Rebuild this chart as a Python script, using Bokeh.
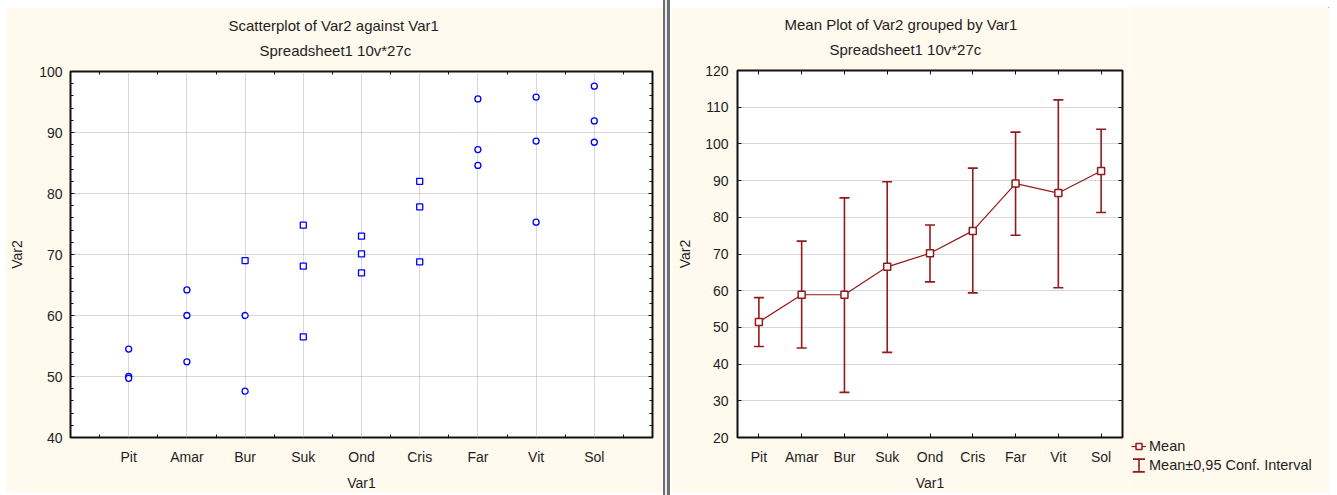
from bokeh.plotting import figure
from bokeh.models import (Range1d, FixedTicker, SingleIntervalTicker, LinearAxis,
                          Title, Legend, LegendItem, ColumnDataSource, Div,
                          CustomLabelingPolicy)
from bokeh.layouts import row
from bokeh.embed import file_html
from bokeh.resources import INLINE

# ---------------- data ----------------
categories = ["Pit", "Amar", "Bur", "Suk", "Ond", "Cris", "Far", "Vit", "Sol"]

# scatterplot cases (Var1 group, Var2 value)
case_var1 = ["Pit", "Pit", "Pit",
             "Amar", "Amar", "Amar",
             "Bur", "Bur", "Bur",
             "Suk", "Suk", "Suk",
             "Ond", "Ond", "Ond",
             "Cris", "Cris", "Cris",
             "Far", "Far", "Far",
             "Vit", "Vit", "Vit",
             "Sol", "Sol", "Sol"]
case_var2 = [54.5, 50.0, 49.7,
             64.2, 60.0, 52.4,
             69.0, 60.0, 47.6,
             74.8, 68.1, 56.5,
             73.0, 70.1, 67.0,
             82.0, 77.8, 68.8,
             95.5, 87.2, 84.6,
             95.8, 88.6, 75.3,
             97.6, 91.9, 88.4]
case_marker = ["circle", "circle", "circle",
               "circle", "circle", "circle",
               "square", "circle", "circle",
               "square", "square", "square",
               "square", "square", "square",
               "square", "square", "square",
               "circle", "circle", "circle",
               "circle", "circle", "circle",
               "circle", "circle", "circle"]

# mean plot
group_mean = [51.5, 58.9, 58.9, 66.5, 70.2, 76.3, 89.2, 86.6, 92.6]
ci_low = [44.8, 44.4, 32.3, 43.2, 62.4, 59.4, 75.1, 60.8, 81.3]
ci_high = [58.1, 73.5, 85.3, 89.7, 77.9, 93.4, 103.2, 112.0, 104.0]

# ---------------- style ----------------
BG = "#FFF9EE"
FONT = "Liberation Sans"
TXT = "#1e1e1e"
RED = "#921A1A"
BLUE = "#0000FF"
GRID = "#b0b0b0"

cat_pos = {c: i + 1 for i, c in enumerate(categories)}
cat_labels = {i + 1: c for i, c in enumerate(categories)}

HIDE_LABELS = "for (const i of Array.from(indices)) { indices.unset(i) }; return indices"


def style_axis(ax, tick_in=4, minor_in=0, standoff=8, label_standoff=10):
    ax.axis_line_color = None
    ax.major_tick_out = 0
    ax.major_tick_in = tick_in
    ax.minor_tick_out = 0
    ax.minor_tick_in = minor_in
    ax.major_tick_line_color = "#111111"
    ax.minor_tick_line_color = "#111111"
    ax.major_label_text_font = FONT
    ax.major_label_text_font_size = "14px"
    ax.major_label_text_color = TXT
    ax.major_label_standoff = standoff
    ax.axis_label_text_font = FONT
    ax.axis_label_text_font_size = "14px"
    ax.axis_label_text_font_style = "normal"
    ax.axis_label_text_color = TXT
    ax.axis_label_standoff = label_standoff


def tick_only_axis(ticker, tick_in, minor_in, extent_font, standoff):
    ax = LinearAxis(ticker=ticker)
    style_axis(ax, tick_in=tick_in, minor_in=minor_in, standoff=standoff)
    ax.major_label_text_font_size = extent_font
    ax.major_label_policy = CustomLabelingPolicy(code=HIDE_LABELS)
    return ax


def add_titles(p, line1, line2, off1, off2):
    p.add_layout(Title(text=line2, align="left", offset=off2, text_font=FONT,
                       text_font_size="15px", text_font_style="normal",
                       text_color=TXT, standoff=6), "above")
    p.add_layout(Title(text=line1, align="left", offset=off1, text_font=FONT,
                       text_font_size="15px", text_font_style="normal",
                       text_color=TXT, standoff=6), "above")


# ---------------- left: scatterplot ----------------
p1 = figure(width=658, height=486, x_range=Range1d(0, 10), y_range=Range1d(40, 100),
            output_backend="svg", toolbar_location=None,
            min_border_left=65, min_border_right=11, min_border_top=64, min_border_bottom=52,
            background_fill_color="white", border_fill_color=BG,
            outline_line_color="#111111", outline_line_width=2)
p1.margin = (7, 0, 0, 5)
p1.frame_align = False

x_ticker1 = FixedTicker(ticks=list(cat_labels.keys()),
                        minor_ticks=[k + 0.5 for k in range(10)])
y_ticker1 = SingleIntervalTicker(interval=10, num_minor_ticks=5)

p1.xaxis.ticker = x_ticker1
p1.xaxis.major_label_overrides = cat_labels
p1.xaxis.axis_label = "Var1"
style_axis(p1.xaxis[0], tick_in=0, minor_in=3, standoff=11, label_standoff=7)
p1.yaxis.ticker = y_ticker1
p1.yaxis.axis_label = "Var2"
style_axis(p1.yaxis[0], tick_in=4, minor_in=3, standoff=8, label_standoff=11)

p1.add_layout(tick_only_axis(x_ticker1, 0, 3, "9px", 1), "above")
p1.add_layout(tick_only_axis(y_ticker1, 4, 3, "1px", 0), "right")

p1.grid.grid_line_color = GRID
p1.grid.grid_line_dash = "1 1"

add_titles(p1, "Scatterplot of Var2 against Var1", "Spreadsheet1 10v*27c", 158, 189)

src1 = ColumnDataSource(dict(x=[cat_pos[c] for c in case_var1], y=case_var2, m=case_marker))
p1.scatter("x", "y", marker="m", source=src1, size=6, line_color=BLUE,
           fill_color="white", line_width=1.3)

# ---------------- divider ----------------
divider = Div(width=8, height=495, margin=0,
              text='<div style="width:8px;height:495px;background:linear-gradient(to right,'
                   '#6e6e6e 0px,#6e6e6e 2px,#eceef4 2px,#eceef4 4px,#6e6e6e 4px,#6e6e6e 7px,'
                   '#ffffff 7px,#ffffff 8px)"></div>')

# ---------------- right: mean plot ----------------
p2 = figure(width=457, height=486, x_range=Range1d(0.5, 9.5), y_range=Range1d(20, 120),
            output_backend="svg", toolbar_location=None,
            min_border_left=66, min_border_right=6, min_border_top=63, min_border_bottom=53,
            background_fill_color="white", border_fill_color=BG,
            outline_line_color="#111111", outline_line_width=2)
p2.margin = (7, 0, 0, 0)
p2.frame_align = False

x_ticker2 = FixedTicker(ticks=list(cat_labels.keys()))
y_ticker2 = SingleIntervalTicker(interval=10, num_minor_ticks=0)

p2.xaxis.ticker = x_ticker2
p2.xaxis.major_label_overrides = cat_labels
p2.xaxis.axis_label = "Var1"
style_axis(p2.xaxis[0], tick_in=4, standoff=11, label_standoff=7)
p2.yaxis.ticker = y_ticker2
p2.yaxis.axis_label = "Var2"
style_axis(p2.yaxis[0], tick_in=4, standoff=9, label_standoff=9)

p2.add_layout(tick_only_axis(x_ticker2, 4, 0, "9px", 1), "above")
p2.add_layout(tick_only_axis(y_ticker2, 4, 0, "1px", 0), "right")

p2.xgrid.visible = False
p2.ygrid.grid_line_color = GRID
p2.ygrid.grid_line_dash = "1 1"

add_titles(p2, "Mean Plot of Var2 grouped by  Var1", "Spreadsheet1 10v*27c", 47, 92)

xs2 = [cat_pos[c] for c in categories]
src2 = ColumnDataSource(dict(x=xs2, mean=group_mean, lo=ci_low, hi=ci_high))

p2.segment("x", "lo", "x", "hi", source=src2, line_color=RED, line_width=1.6)
p2.scatter("x", "lo", source=src2, marker="dash", size=10, line_color=RED, line_width=1.6)
p2.scatter("x", "hi", source=src2, marker="dash", size=10, line_color=RED, line_width=1.6)
p2.line("x", "mean", source=src2, line_color=RED, line_width=1.2)
p2.scatter("x", "mean", source=src2, marker="square", size=7,
           fill_color="white", line_color=RED, line_width=1.5)

# ---------------- legend panel (to the right of the mean plot) ----------------
# The same series are attached here (outside this panel's visible range) so that
# the legend can draw their symbols in the margin, as in the original chart.
pl = figure(width=201, height=486, x_range=Range1d(-2, -1), y_range=Range1d(-2, -1),
            output_backend="svg", toolbar_location=None,
            x_axis_type=None, y_axis_type=None,
            min_border_left=0, min_border_right=0, min_border_top=0, min_border_bottom=0,
            background_fill_color=BG, border_fill_color=BG, outline_line_color=None)
pl.margin = (7, 0, 0, 0)
pl.frame_align = False
pl.grid.visible = False

leg_line = pl.line("x", "mean", source=src2, line_color=RED, line_width=1.2)
leg_mean = pl.scatter("x", "mean", source=src2, marker="square", fill_color="white",
                      line_color=RED, line_width=1.5)
# interval symbol: a very thin ellipse gives the vertical stem, a dashed box gives the caps
leg_stem = pl.ellipse(x="x", y="mean", source=src2, width=0.3, height=40,
                      width_units="screen", height_units="screen",
                      fill_color=None, line_color=RED, line_width=1.6)
leg_caps = pl.vbar(x="x", bottom="lo", top="hi", source=src2, width=0.3, fill_color=None,
                   line_color=RED, line_width=1.6, line_dash="12 13")

legend = Legend(items=[LegendItem(label="Mean", renderers=[leg_line, leg_mean]),
                       LegendItem(label="Mean\u00b10,95 Conf. Interval",
                                  renderers=[leg_stem, leg_caps])],
                location=(3, 20), padding=0, margin=0, spacing=3,
                glyph_width=15, glyph_height=16, label_height=16, label_standoff=3,
                label_text_font=FONT, label_text_font_size="14.5px", label_text_color=TXT,
                border_line_color=None, background_fill_alpha=0)
pl.add_layout(legend)

layout = row(p1, divider, p2, pl)
open("out.html", "w").write(file_html(layout, INLINE, title="Scatterplot and Mean Plot"))
